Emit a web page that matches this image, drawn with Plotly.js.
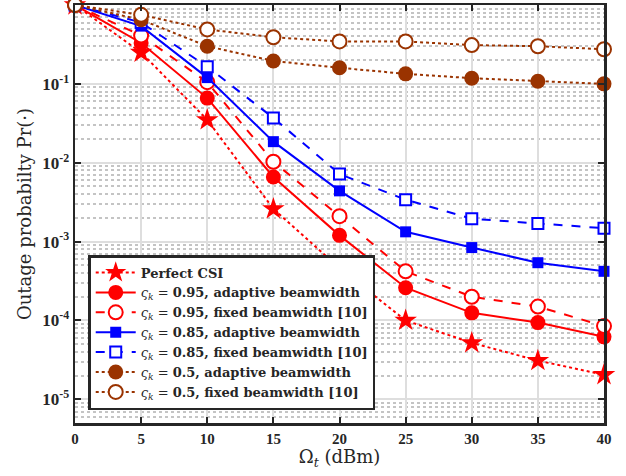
<!DOCTYPE html>
<html><head><meta charset="utf-8">
<script src="https://cdn.plot.ly/plotly-3.0.1.min.js"></script>
<style>body{margin:0;padding:0;background:#fff}#plot{width:626px;height:476px}</style>
</head><body><div id="plot"></div>
<script>
const omega = [0, 5, 10, 15, 20, 25, 30, 35, 40];
const perfectCSI = [1, 0.25, 0.035, 0.0026, 4.6e-4, 1.0e-4, 5.2e-5, 3.1e-5, 2.05e-5];
const adapt095 = [1, 0.33, 0.066, 0.0066, 1.2e-3, 2.6e-4, 1.25e-4, 9.4e-5, 6.2e-5];
const fixed095 = [1, 0.41, 0.105, 0.0103, 2.1e-3, 4.2e-4, 2.0e-4, 1.5e-4, 8.5e-5];
const adapt085 = [1, 0.54, 0.12, 0.0185, 4.4e-3, 1.33e-3, 8.4e-4, 5.4e-4, 4.2e-4];
const fixed085 = [1, 0.6, 0.165, 0.037, 7.2e-3, 3.4e-3, 1.95e-3, 1.7e-3, 1.48e-3];
const adapt05 = [1, 0.65, 0.30, 0.195, 0.16, 0.134, 0.118, 0.108, 0.1];
const fixed05 = [1, 0.75, 0.49, 0.39, 0.345, 0.345, 0.31, 0.30, 0.275];
const names = [
  "<b>Perfect CSI</b>",
  "<i>ς<sub>k</sub></i> = <b>0.95, adaptive beamwidth</b>",
  "<i>ς<sub>k</sub></i> = <b>0.95, fixed beamwidth [10]</b>",
  "<i>ς<sub>k</sub></i> = <b>0.85, adaptive beamwidth</b>",
  "<i>ς<sub>k</sub></i> = <b>0.85, fixed beamwidth [10]</b>",
  "<i>ς<sub>k</sub></i> = <b>0.5, adaptive beamwidth</b>",
  "<i>ς<sub>k</sub></i> = <b>0.5, fixed beamwidth [10]</b>"
];
const xTickVals = [0, 5, 10, 15, 20, 25, 30, 35, 40];
const yTickVals = [1e-5, 1e-4, 1e-3, 1e-2, 1e-1, 1];
const yTickText = ["10<sup>-5</sup>","10<sup>-4</sup>","10<sup>-3</sup>","10<sup>-2</sup>","10<sup>-1</sup>","10<sup>0</sup>"];

const RED = "#ff0000", BLUE = "#0000ff", BROWN = "#9a3300";
function tr(y, name, color, dash, symbol, size, filled) {
  return {
    x: omega, y: y, name: name, type: "scatter", mode: "lines+markers",
    line: {color: color, width: 2, dash: dash},
    marker: {symbol: symbol, size: size, color: filled ? color : "#ffffff",
             line: {color: color, width: filled ? 0 : 2}},
    cliponaxis: false
  };
}
const data = [
  tr(perfectCSI, names[0], RED, "dot", "star", 17, true),
  tr(adapt095, names[1], RED, "solid", "circle", 15, true),
  tr(fixed095, names[2], RED, "dash", "circle", 14, false),
  tr(adapt085, names[3], BLUE, "solid", "square", 11, true),
  tr(fixed085, names[4], BLUE, "dash", "square", 11, false),
  tr(adapt05, names[5], BROWN, "dot", "circle", 15, true),
  tr(fixed05, names[6], BROWN, "dot", "circle", 14, false)
];
const tickFam = "Liberation Serif, Times New Roman, serif";
const titleFam = "DejaVu Serif, serif";
const layout = {
  width: 626, height: 476,
  margin: {l: 75, r: 22, t: 5, b: 53},
  paper_bgcolor: "#fff", plot_bgcolor: "#fff",
  showlegend: true,
  xaxis: {
    range: [0, 40], tickvals: xTickVals,
    ticks: "inside", ticklen: 6, tickwidth: 2, tickcolor: "#262626",
    showline: true, linecolor: "#262626", linewidth: 2.5, mirror: "allticks",
    showgrid: true, gridcolor: "#dedede", gridwidth: 2,
    zeroline: false,
    tickfont: {family: tickFam, size: 15, color: "#262626", weight: "bold"},
    title: {text: "Ω<sub><i>t</i></sub> (dBm)", font: {family: titleFam, size: 18, color: "#262626"}, standoff: 4}
  },
  yaxis: {
    type: "log", range: [-5.3, 0],
    tickvals: yTickVals, ticktext: yTickText,
    ticks: "inside", ticklen: 6, tickwidth: 2, tickcolor: "#262626",
    showline: true, linecolor: "#262626", linewidth: 2.5, mirror: "allticks",
    showgrid: true, gridcolor: "#dedede", gridwidth: 2,
    zeroline: false,
    minor: {dtick: "D1", showgrid: true, gridcolor: "#c4c4c4", griddash: "dot", gridwidth: 2, ticks: ""},
    tickfont: {family: tickFam, size: 17, color: "#262626", weight: "bold"},
    title: {text: "Outage probabilty Pr(·)", font: {family: titleFam, size: 18, color: "#262626"}, standoff: 6}
  },
  legend: {
    x: 0.025, y: 0.031, xanchor: "left", yanchor: "bottom",
    bgcolor: "#ffffff", bordercolor: "#262626", borderwidth: 2.5,
    font: {family: titleFam, size: 13, color: "#262626"},
    tracegroupgap: 0, itemwidth: 40
  }
};
Plotly.newPlot("plot", data, layout, {displayModeBar: false, staticPlot: true});
</script></body></html>
